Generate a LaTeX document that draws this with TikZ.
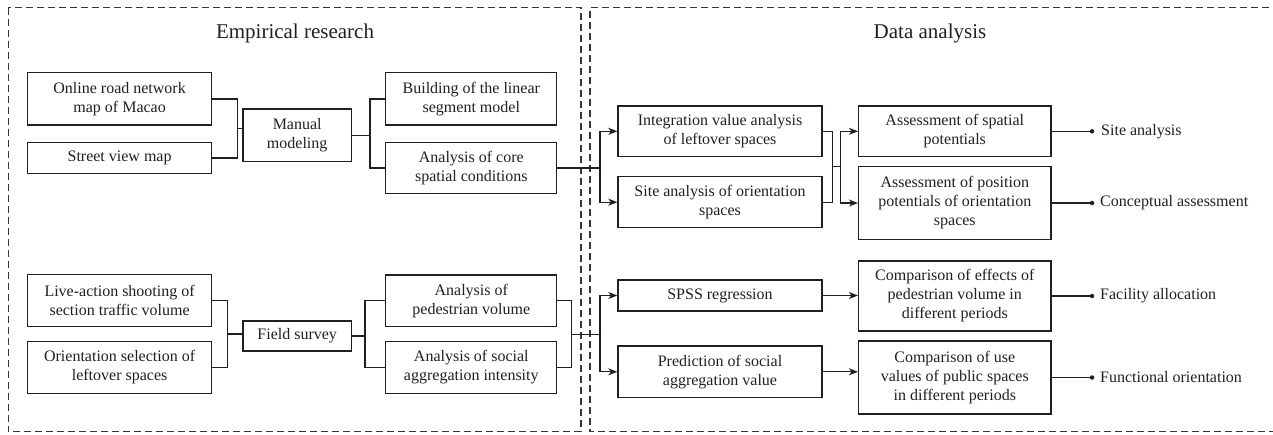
\documentclass[tikz,border=0pt]{standalone}
\usepackage{fontspec}
\setmainfont{Liberation Serif}
\usetikzlibrary{arrows.meta,calc}
\definecolor{ink}{HTML}{231F20}
\begin{document}
\begin{tikzpicture}[x=1pt,y=-1pt,
  every node/.style={font=\fontsize{16}{19}\selectfont, text=ink},
  box/.style 2 args={draw=ink, line width=1.3pt, align=center, inner sep=0pt,
    minimum width=#1, minimum height=#2},
  title/.style={font=\fontsize{21}{25}\selectfont, inner sep=0pt},
  lbl/.style={anchor=west, inner sep=0pt},
  conn/.style={draw=ink, line width=1.3pt},
  arr/.style={conn, -{Stealth[length=9pt,width=7pt,inset=2.5pt]}},
  region/.style={draw=ink!90, line width=1.2pt, dash pattern=on 7pt off 4pt},
  enddot/.style={circle, fill=ink, inner sep=0pt, minimum size=4.5pt}]
\useasboundingbox (0,0) rectangle (1273,434);

% regions
\draw[region] (8.4,7.5) rectangle (581,431.5);
\draw[region] (1280,7.5) -- (590,7.5) -- (590,431.5) -- (1280,431.5);
\node[title] (t1) at (295,33) {Empirical research};
\node[title] (t2) at (930,33) {Data analysis};

% left column
\node[box={184}{52.3}] (online) at (119.6,98.9) {Online road network\\map of Macao};
\node[box={184}{30.6}] (street) at (119.6,158) {Street view map};
\node[box={108.3}{52.3}] (manual) at (297.2,135.2) {Manual\\modeling};
\node[box={171}{52.3}] (building) at (471.3,98.9) {Building of the linear\\segment model};
\node[box={171}{50.6}] (core) at (471.3,168) {Analysis of core\\spatial conditions};

\node[box={184}{52.4}] (live) at (119.6,300.5) {Live-action shooting of\\section traffic volume};
\node[box={184}{51.6}] (orient) at (119.6,367.5) {Orientation selection of\\leftover spaces};
\node[box={108.3}{30}] (field) at (297.2,336) {Field survey};
\node[box={171}{51.7}] (ped) at (471.3,300.8) {Analysis of\\pedestrian volume};
\node[box={171}{51.6}] (social) at (471.3,367.5) {Analysis of social\\aggregation intensity};

% right column
\node[box={204}{50.7}] (integ) at (720,131.3) {Integration value analysis\\of leftover spaces};
\node[box={204}{51}] (siteo) at (720,202.2) {Site analysis of orientation\\spaces};
\node[box={204}{31}] (spss) at (720,295.5) {SPSS regression};
\node[box={204}{51.7}] (pred) at (720,371.8) {Prediction of social\\aggregation value};

\node[box={192.4}{50.7}] (spatial) at (954.8,131.3) {Assessment of spatial\\potentials};
\node[box={192.4}{72.6}] (position) at (954.8,203) {Assessment of position\\potentials of orientation\\spaces};
\node[box={192.4}{70}] (effects) at (954.8,296) {Comparison of effects of\\pedestrian volume in\\different periods};
\node[box={192.4}{73}] (use) at (954.8,377.5) {Comparison of use\\values of public spaces\\in different periods};

% helper columns
\coordinate (colA) at (600,0);
\coordinate (colB) at (840.5,0);
\coordinate (colC) at (1092,0);

% top-left connectors
\draw[conn] (online.east) -- ++(25,0) |- (street.east);
\coordinate (j1) at ($(online.east)!.5!(street.east)+(25,0)$);
\draw[conn] (j1) -- (j1 -| manual.west);
\coordinate (j2) at ($(manual.east)+(19.2,0)$);
\draw[conn] (manual.east) -- (j2);
\draw[conn] (building.west) -- ++(-15.3,0) |- (core.west);
\draw[conn] (core.east) -- (core.east -| colA);
\draw[arr] (core.east -| colA) |- (integ.west);
\draw[arr] (core.east -| colA) |- (siteo.west);

% top-right connectors
\draw[conn] (integ.east) -- ++(10,0) |- (siteo.east);
\coordinate (j3) at ($(integ.east)!.5!(siteo.east)+(10,0)$);
\draw[conn] (j3) -- (j3 -| colB);
\draw[arr] (j3 -| colB) |- (spatial.west);
\draw[arr] (j3 -| colB) |- (position.west);

\draw[conn] (spatial.east) -- (spatial.east -| colC) node[enddot] (d1) {};
\node[lbl] (o1) at ($(spatial.east -| colC)+(9,0)$) {Site analysis};
\draw[conn] (position.east) -- (position.east -| colC) node[enddot] (d2) {};
\node[lbl] (o2) at ($(position.east -| colC)+(8,0)$) {Conceptual assessment};

% bottom-left connectors
\draw[conn] (live.east) -- ++(15,0) |- (orient.east);
\coordinate (j4) at ($(live.east)!.5!(orient.east)+(15,0)$);
\draw[conn] (j4) -- (j4 -| field.west);
\draw[conn] (field.east) -- ++(14.2,0);
\draw[conn] (ped.west) -- ++(-20.3,0) |- (social.west);
\draw[conn] (ped.east) -- ++(14.2,0) |- (social.east);
\coordinate (j5) at ($(ped.east)!.5!(social.east)+(14.2,0)$);
\draw[conn] (j5) -- (j5 -| colA);
\draw[arr] (j5 -| colA) |- (spss.west);
\draw[arr] (j5 -| colA) |- (pred.west);

% bottom-right connectors
\draw[arr] (spss.east) -- (spss.east -| effects.west);
\draw[arr] (pred.east) -- (pred.east -| use.west);
\draw[conn] (effects.east) -- (effects.east -| colC) node[enddot] (d3) {};
\node[lbl] (o3) at ($(effects.east -| colC)+(8,0)$) {Facility allocation};
\draw[conn] (use.east) -- (use.east -| colC) node[enddot] (d4) {};
\node[lbl] (o4) at ($(use.east -| colC)+(8,0)$) {Functional orientation};
\end{tikzpicture}
\end{document}
